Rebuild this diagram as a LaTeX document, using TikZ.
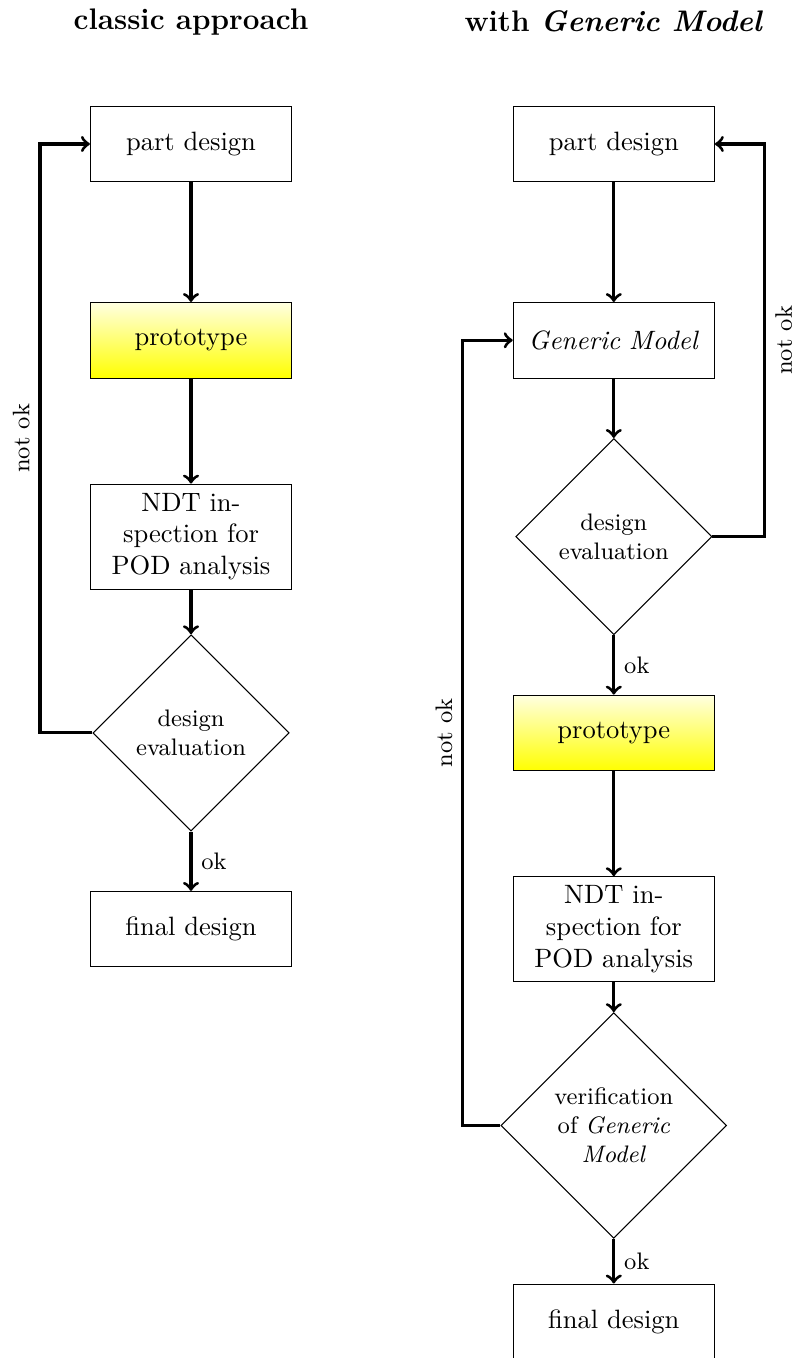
\documentclass[tikz,border=0pt]{standalone}
\usepackage{tikz}
\usetikzlibrary{shapes.geometric}
\usetikzlibrary{positioning}

\begin{document}
\begin{tikzpicture}[node distance=2.6cm, on grid,
        block/.style={rectangle, draw, text width=2.43cm, align=center, minimum height=1cm},
        decision/.style={diamond, draw, aspect=1, inner sep=2.9pt, text width=4.5em, align=center, font=\small},
        heading/.style={font=\fontsize{11.2}{13.6}\selectfont\bfseries},
        flow/.style={->, very thick},
        lbl/.style={font=\small}]

        \useasboundingbox (-2.53,1.907) rectangle (8.066,-16.08);

        % classic approach (left column)
        \node [block] (part_c) {part design};
        \node [heading, above=1.62cm of part_c] (title_c) {classic approach};
        \node [block, below=of part_c, top color=yellow!12!white, bottom color=yellow] (proto_c) {prototype};
        \node [block, below=of proto_c] (ndt_c) {NDT inspection for POD analysis};
        \node [decision, below=of ndt_c] (eval_c) {design evaluation};
        \node [block, below=of eval_c] (final_c) {final design};
        \coordinate [left=2cm of eval_c] (back_c);

        \foreach \a/\b in {part_c/proto_c, proto_c/ndt_c, ndt_c/eval_c} {
            \draw [flow] (\a) -- (\b);
        }
        \draw [flow] (eval_c) -- node [lbl, right] {ok} (final_c);
        \draw [flow] (eval_c) -- (back_c) |- node [lbl, pos=0.25, above, rotate=90] {not ok} (part_c);

        % with generic model (right column)
        \node [block] (part_g) at (5.6,0) {part design};
        \node [heading, above=1.62cm of part_g] (title_g) {with \textit{Generic Model}};
        \node [block, below=of part_g] (model_g) {\textit{Generic Model}};
        \node [decision, below=of model_g] (eval_g) {design evaluation};
        \node [block, below=of eval_g, top color=yellow!12!white, bottom color=yellow] (proto_g) {prototype};
        \node [block, below=of proto_g] (ndt_g) {NDT inspection for POD analysis};
        \node [decision, below=of ndt_g] (verif_g) {verification of \textit{Generic Model}};
        \node [block, below=of verif_g] (final_g) {final design};
        \coordinate [right=2cm of eval_g] (back_g);
        \coordinate [left=2cm of verif_g] (recheck_g);

        \foreach \a/\b in {part_g/model_g, model_g/eval_g, proto_g/ndt_g, ndt_g/verif_g} {
            \draw [flow] (\a) -- (\b);
        }
        \draw [flow] (eval_g) -- node [lbl, right] {ok} (proto_g);
        \draw [flow] (verif_g) -- node [lbl, right] {ok} (final_g);
        \draw [flow] (eval_g) -- (back_g) |- node [lbl, pos=0.25, below, rotate=90] {not ok} (part_g);
        \draw [flow] (verif_g) -- (recheck_g) |- node [lbl, pos=0.25, above, rotate=90] {not ok} (model_g);

\end{tikzpicture}
\end{document}
